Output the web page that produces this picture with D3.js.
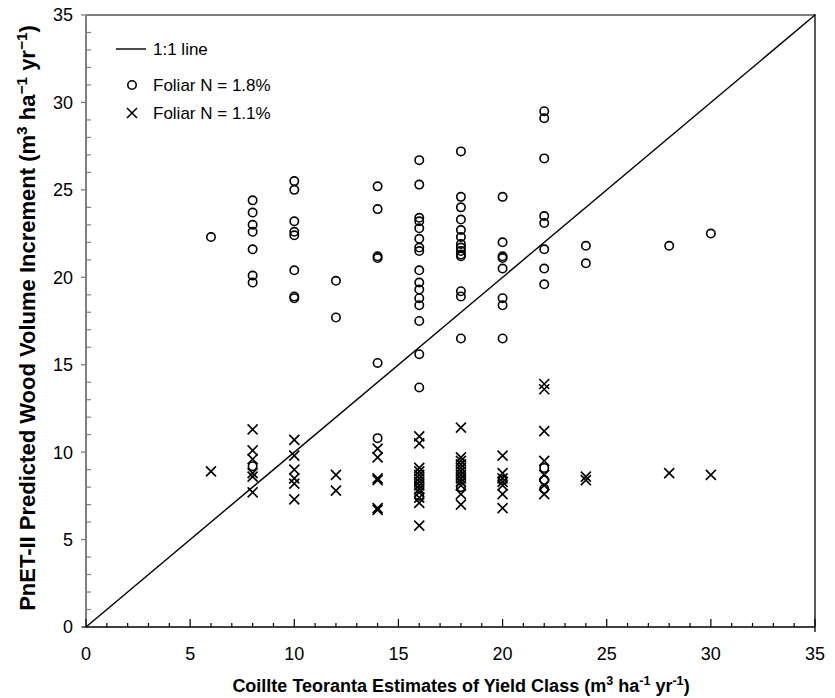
<!DOCTYPE html>
<html>
<head>
<meta charset="utf-8">
<script src="https://cdn.jsdelivr.net/npm/d3@7"></script>
<style>
  html, body { margin: 0; padding: 0; background: #fff; }
  svg { display: block; font-family: "Liberation Sans", Arial, Helvetica, sans-serif; }
</style>
</head>
<body>
<svg id="chart" width="835" height="698"></svg>
<script>
// Yield classes (x) with predicted increments (y) for each foliar N level
const yieldClasses = [6, 8, 10, 12, 14, 16, 18, 20, 22, 24, 28, 30];

const foliarN18 = [
  [22.3],
  [24.4, 23.7, 23.0, 22.6, 21.6, 20.1, 19.7, 9.2],
  [25.5, 25.0, 23.2, 22.6, 22.4, 20.4, 18.9, 18.8],
  [19.8, 17.7],
  [25.2, 23.9, 21.2, 21.1, 15.1, 10.8],
  [26.7, 25.3, 23.4, 23.2, 22.8, 22.2, 21.7, 21.5, 20.4, 19.7, 19.3, 18.8, 18.4, 17.5, 15.6, 13.7, 8.2, 7.5],
  [27.2, 24.6, 24.0, 23.3, 22.7, 22.3, 21.9, 21.7, 21.5, 21.3, 21.2, 19.2, 18.9, 16.5, 8.6, 8.0],
  [24.6, 22.0, 21.2, 21.1, 20.5, 18.8, 18.4, 16.5, 8.4],
  [29.5, 29.1, 26.8, 23.5, 23.1, 21.6, 20.5, 19.6, 9.1, 8.4, 7.9],
  [21.8, 20.8],
  [21.8],
  [22.5]
];

const foliarN11 = [
  [8.9],
  [11.3, 10.1, 9.6, 8.8, 8.6, 7.7],
  [10.7, 9.8, 9.0, 8.5, 8.2, 7.3],
  [8.7, 7.8],
  [10.2, 9.7, 8.5, 8.4, 6.8, 6.7],
  [10.9, 10.5, 9.1, 8.9, 8.7, 8.5, 8.3, 8.1, 7.9, 7.7, 7.4, 7.1, 5.8],
  [11.4, 9.7, 9.5, 9.3, 9.1, 8.9, 8.7, 8.5, 8.3, 8.1, 7.6, 7.0],
  [9.8, 8.8, 8.5, 8.3, 8.1, 7.6, 6.8],
  [13.9, 13.6, 11.2, 9.5, 8.7, 8.1, 7.6],
  [8.6, 8.4],
  [8.8],
  [8.7]
];

const majorTicks = [0, 5, 10, 15, 20, 25, 30, 35];
const minorTicks = d3.range(0, 36, 1).filter(v => v % 5 !== 0);
const legendLabels = ["1:1 line", "Foliar N = 1.8%", "Foliar N = 1.1%"];

const svg = d3.select("#chart");
const plotL = 86, plotR = 815, plotT = 15, plotB = 627;

const x = d3.scaleLinear().domain([0, 35]).range([plotL, plotR]);
const y = d3.scaleLinear().domain([0, 35]).range([plotB, plotT]);

// flatten per-class lists into points
function toPoints(groups) {
  const pts = [];
  groups.forEach((vals, i) => vals.forEach(v => pts.push([yieldClasses[i], v])));
  return pts;
}
const ptsHigh = toPoints(foliarN18);
const ptsLow = toPoints(foliarN11);

// frame: grey top and left, black right and bottom
svg.append("line").attr("x1", plotL).attr("x2", plotR).attr("y1", plotT).attr("y2", plotT)
  .attr("stroke", "#808080").attr("stroke-width", 2);
svg.append("line").attr("x1", plotL).attr("x2", plotL).attr("y1", plotT).attr("y2", plotB)
  .attr("stroke", "#808080").attr("stroke-width", 2);
svg.append("line").attr("x1", plotR).attr("x2", plotR).attr("y1", plotT - 1).attr("y2", plotB + 5)
  .attr("stroke", "#000").attr("stroke-width", 1.3);
svg.append("line").attr("x1", plotL - 4).attr("x2", plotR).attr("y1", plotB).attr("y2", plotB)
  .attr("stroke", "#000").attr("stroke-width", 1.3);

// y axis ticks: major outward, minor inward
const yAxis = svg.append("g");
yAxis.selectAll(".ymaj").data(majorTicks).join("line")
  .attr("x1", plotL - 5).attr("x2", plotL).attr("y1", d => y(d)).attr("y2", d => y(d))
  .attr("stroke", "#808080").attr("stroke-width", 1.3);
yAxis.selectAll(".ymin").data(minorTicks).join("line")
  .attr("x1", plotL).attr("x2", plotL + 5).attr("y1", d => y(d)).attr("y2", d => y(d))
  .attr("stroke", "#808080").attr("stroke-width", 1.2);
yAxis.selectAll("text").data(majorTicks).join("text")
  .attr("x", plotL - 13).attr("y", d => y(d)).attr("dy", "0.36em")
  .attr("text-anchor", "end").attr("font-size", 18).text(d => d);

// x axis ticks point upward into the plot
const xAxis = svg.append("g");
xAxis.selectAll(".xmaj").data(majorTicks).join("line")
  .attr("x1", d => x(d)).attr("x2", d => x(d)).attr("y1", plotB).attr("y2", plotB - 8)
  .attr("stroke", "#000").attr("stroke-width", 1.2);
xAxis.selectAll(".xmin").data(minorTicks).join("line")
  .attr("x1", d => x(d)).attr("x2", d => x(d)).attr("y1", plotB).attr("y2", plotB - 4)
  .attr("stroke", "#000").attr("stroke-width", 1.2);
xAxis.selectAll("text").data(majorTicks).join("text")
  .attr("x", d => x(d)).attr("y", plotB + 33)
  .attr("text-anchor", "middle").attr("font-size", 18).text(d => d);

// 1:1 reference line
svg.append("line")
  .attr("x1", x(0)).attr("y1", y(0)).attr("x2", x(35)).attr("y2", y(35))
  .attr("stroke", "#000").attr("stroke-width", 1.4);

// markers
const crossHalf = 5;
function crossPath(cx, cy) {
  return `M${cx - crossHalf},${cy - crossHalf}L${cx + crossHalf},${cy + crossHalf}` +
         `M${cx - crossHalf},${cy + crossHalf}L${cx + crossHalf},${cy - crossHalf}`;
}

svg.append("g").selectAll("path").data(ptsLow).join("path")
  .attr("d", d => crossPath(x(d[0]), y(d[1])))
  .attr("stroke", "#000").attr("stroke-width", 1.6).attr("fill", "none");

svg.append("g").selectAll("circle").data(ptsHigh).join("circle")
  .attr("cx", d => x(d[0])).attr("cy", d => y(d[1])).attr("r", 4.2)
  .attr("fill", "none").attr("stroke", "#000").attr("stroke-width", 1.6);

// legend
const lg = svg.append("g").attr("font-size", 17);
lg.append("line").attr("x1", 116).attr("x2", 146).attr("y1", 49).attr("y2", 49)
  .attr("stroke", "#000").attr("stroke-width", 1.4);
lg.append("text").attr("x", 153).attr("y", 49).attr("dy", "0.36em").text(legendLabels[0]);
lg.append("circle").attr("cx", 132).attr("cy", 85).attr("r", 4.2)
  .attr("fill", "none").attr("stroke", "#000").attr("stroke-width", 1.6);
lg.append("text").attr("x", 153).attr("y", 85).attr("dy", "0.36em").text(legendLabels[1]);
lg.append("path").attr("d", crossPath(132, 113))
  .attr("stroke", "#000").attr("stroke-width", 1.6).attr("fill", "none");
lg.append("text").attr("x", 153).attr("y", 113).attr("dy", "0.36em").text(legendLabels[2]);

// axis titles with superscripts
function unitTitle(sel, prefix, sups) {
  sel.append("tspan").text(prefix + " (m");
  sel.append("tspan").attr("baseline-shift", "super").attr("font-size", "70%").text(sups[0]);
  sel.append("tspan").text(" ha");
  sel.append("tspan").attr("baseline-shift", "super").attr("font-size", "70%").text(sups[1]);
  sel.append("tspan").text(" yr");
  sel.append("tspan").attr("baseline-shift", "super").attr("font-size", "70%").text(sups[2]);
  sel.append("tspan").text(")");
}

const xt = svg.append("text")
  .attr("x", 461).attr("y", 692)
  .attr("text-anchor", "middle").attr("font-size", 18).attr("font-weight", "bold");
unitTitle(xt, "Coillte Teoranta Estimates of Yield Class", ["3", "-1", "-1"]);

const yt = svg.append("text")
  .attr("transform", `translate(35, 318) rotate(-90)`)
  .attr("text-anchor", "middle").attr("font-size", 22).attr("font-weight", "bold");
unitTitle(yt, "PnET-II Predicted Wood Volume Increment", ["3", "\u22121", "\u22121"]);
</script>
</body>
</html>
